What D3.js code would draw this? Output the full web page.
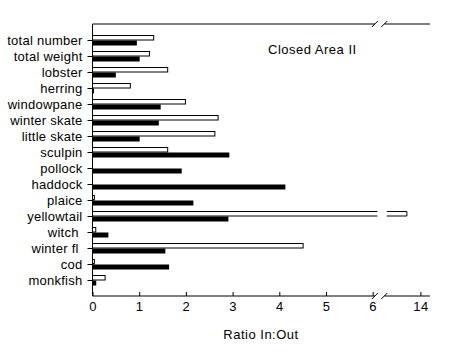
<!DOCTYPE html>
<html><head><meta charset="utf-8">
<script src="https://cdn.jsdelivr.net/npm/d3@7"></script>
<style>
body{margin:0;background:#fff;}
text{font-family:"Liberation Sans",Arial,sans-serif;fill:#000;}
</style></head>
<body><svg id="c" width="475" height="356"></svg>
<script>
const categories = ["total number","total weight","lobster","herring","windowpane","winter skate","little skate","sculpin","pollock","haddock","plaice","yellowtail","witch ","winter fl ","cod","monkfish"];
const insideOut = [1.31,1.22,1.61,0.81,1.99,2.69,2.62,1.61,0,0,0.04,13.71,0.07,4.51,0.04,0.27]; // white bars
const blackVals = [0.95,1.01,0.50,0.02,1.46,1.42,1.01,2.93,1.91,4.13,2.16,2.91,0.34,1.56,1.64,0.08]; // black bars
const tickVals = [0,1,2,3,4,5,6,14];
const brkLo = 6.1, brkHi = 13.28, xMax = 14.21;

const svg = d3.select("#c");
const L = 92.5, T = 24, W = 337.5, H = 272;
const unit = 46.7;
const gapPx = 9.4;
const x = d3.scaleLinear()
  .domain([0, brkLo, brkHi, xMax])
  .range([0, brkLo*unit, brkLo*unit+gapPx, brkLo*unit+gapPx+(xMax-brkHi)*unit]);
const y = d3.scalePoint().domain(categories).range([0, H]).padding(1);

const g = svg.append("g").attr("transform", `translate(${L},${T})`);

// bars
const rows = categories.map((c,i)=>({c, w: insideOut[i], b: blackVals[i]}));
rows.forEach(r=>{
  const yc = y(r.c);
  if (r.w > 0) {
    if (r.w <= brkLo) {
      g.append("rect").attr("x", 0).attr("y", yc-4.5).attr("width", x(r.w)).attr("height", 4.5)
        .attr("fill","#fff").attr("stroke","#000").attr("stroke-width",1);
    } else {
      const x1 = x(brkLo), x2 = x(brkHi), x3 = x(r.w);
      g.append("rect").attr("x",0).attr("y",yc-4.5).attr("width",x1).attr("height",4.5).attr("fill","#fff");
      g.append("path").attr("d",`M0,${yc-4.5}H${x1}M0,${yc}H${x1}`).attr("stroke","#000").attr("fill","none");
      g.append("path").attr("d",`M${x2},${yc-4.5}H${x3}V${yc}H${x2}`).attr("stroke","#000").attr("fill","#fff");
    }
  }
  if (r.b > 0) {
    g.append("rect").attr("x",0).attr("y",yc+0.5).attr("width",Math.max(x(r.b),1.5)).attr("height",5).attr("fill","#000");
  }
});

// left axis
const ya = g.append("g").call(d3.axisLeft(y).tickSize(5).tickPadding(5));
ya.select(".domain").remove();
ya.selectAll("text").style("font-size","13px").style("letter-spacing","0.25px").style("white-space","pre").attr("font-family",null);
ya.append("line").attr("x1",0).attr("x2",0).attr("y1",0).attr("y2",H).attr("stroke","#000");

// bottom axis
const xa = g.append("g").attr("transform",`translate(0,${H})`)
  .call(d3.axisBottom(x).tickValues(tickVals).tickSize(-4).tickPadding(6).tickFormat(d3.format("d")));
xa.select(".domain").remove();
xa.selectAll("text").style("font-size","13px").style("letter-spacing","0.5px").attr("font-family",null);

// frame lines with breaks
const b1 = x(brkLo)-2.5, b2 = x(brkHi)-2.5;
[0, H].forEach(yy=>{
  g.append("path").attr("d",`M0,${yy}H${b1}M${b2},${yy}H${W}`).attr("stroke","#000").attr("fill","none");
  [b1,b2].forEach(bx=>{
    g.append("line").attr("x1",bx-3).attr("y1",yy+3).attr("x2",bx+3).attr("y2",yy-3).attr("stroke","#000");
  });
});

// texts
svg.append("text").attr("x",268).attr("y",54).style("font-size","13px").style("letter-spacing","0.5px").text("Closed Area II");
svg.append("text").attr("x",261).attr("y",339).attr("text-anchor","middle").style("font-size","13px").style("letter-spacing","0.5px").text("Ratio In:Out");
</script></body></html>
